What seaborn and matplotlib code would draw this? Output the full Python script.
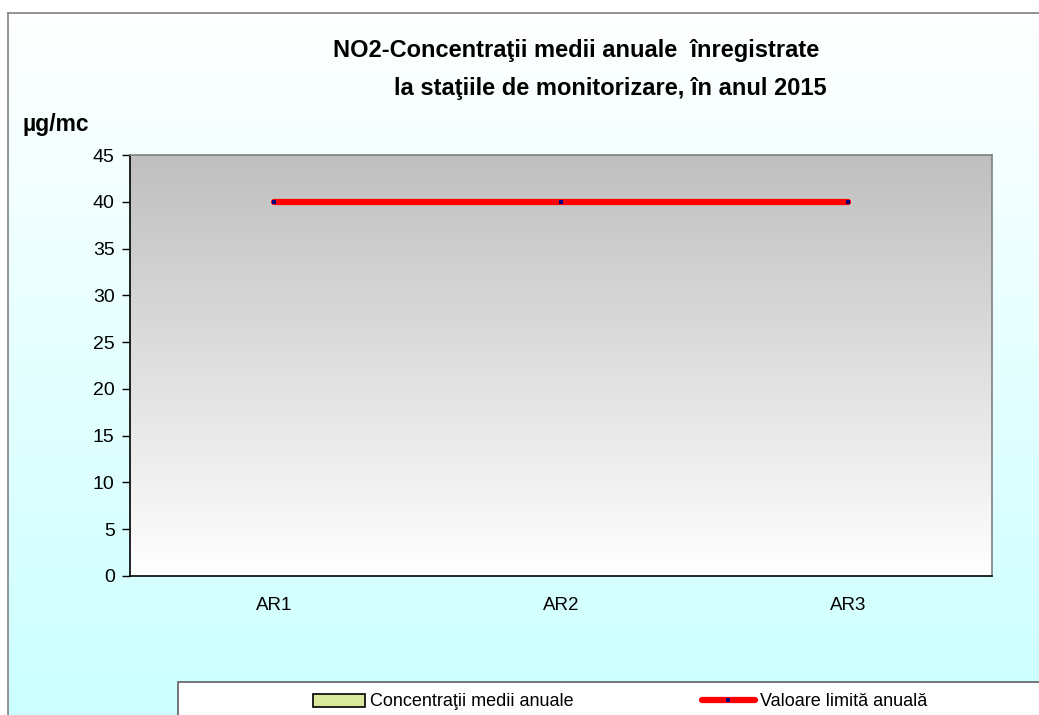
import numpy as np
import pandas as pd
import seaborn as sns
import matplotlib.pyplot as plt
from matplotlib.patches import Rectangle, Patch
from matplotlib.lines import Line2D

# data
stations = ["AR1", "AR2", "AR3"]
concentratii = [0, 0, 0]          # no annual averages drawn in the original
valoare_limita = [40, 40, 40]
y_ticks = [0, 5, 10, 15, 20, 25, 30, 35, 40, 45]

df = pd.DataFrame({"statie": stations, "conc": concentratii, "limita": valoare_limita})

sns.set_style("white")
plt.rcParams["font.family"] = ["Liberation Sans", "DejaVu Sans"]
plt.rcParams["text.color"] = "black"
plt.rcParams["xtick.color"] = "black"
plt.rcParams["ytick.color"] = "black"

W, H = 1039, 715
fig = plt.figure(figsize=(W / 100, H / 100), dpi=100)
fig.patch.set_facecolor("white")

# figure background: white -> light cyan gradient, with grey border on left/top
bg = fig.add_axes([8 / W, 0, 1 - 8 / W, 1 - 13 / H], zorder=-10)
grad = np.linspace(0, 1, 256).reshape(-1, 1)
top = np.array([1.0, 1.0, 1.0])
bot = np.array([0.8, 1.0, 1.0])
img = top + grad[..., None] * (bot - top)
bg.imshow(img, aspect="auto", extent=[0, 1, 0, 1], origin="upper")
bg.set_xlim(0, 1)
bg.set_ylim(0, 1)
bg.set_xticks([])
bg.set_yticks([])
for s in ["right", "bottom"]:
    bg.spines[s].set_visible(False)
for s in ["left", "top"]:
    bg.spines[s].set_color("#808080")
    bg.spines[s].set_linewidth(1.2)

ax = fig.add_axes([130 / W, 1 - 576 / H, 862 / W, 421 / H])

# plot area gradient: grey at top -> white at bottom
top2 = np.array([0.75, 0.75, 0.75])
bot2 = np.array([1.0, 1.0, 1.0])
img2 = top2 + grad[..., None] * (bot2 - top2)
ax.imshow(img2, aspect="auto", extent=[0, 1, 0, 1], origin="upper",
          transform=ax.transAxes, zorder=0)

sns.barplot(data=df, x="statie", y="conc", color="#d9e89c", edgecolor="black",
            linewidth=0, width=0.5, ax=ax, zorder=2)
sns.pointplot(data=df, x="statie", y="limita", color="red", markers="s",
              linestyles="-", ax=ax, zorder=3)
for ln in ax.lines:
    ln.set_linewidth(4.5)
    ln.set_markersize(2.8)
    ln.set_markeredgewidth(0)
    ln.set_markerfacecolor("#000080")

ax.set_xlim(-0.5, 2.5)
ax.set_ylim(0, 45)
ax.set_yticks(y_ticks)
ax.set_xlabel("")
ax.set_ylabel("")
ax.set_xticks(range(len(stations)))
ax.set_xticklabels(stations)
ax.set_xticks([-0.5, 0.5, 1.5, 2.5], minor=True)
ax.tick_params(axis="x", which="major", length=0, labelsize=13.5, pad=15)
ax.tick_params(axis="x", which="minor", direction="inout", length=9, width=1, color="black")
ax.tick_params(axis="y", direction="out", length=6, width=1, color="black",
               labelsize=14, pad=5, left=True)
for s in ["left", "bottom"]:
    ax.spines[s].set_color("black")
    ax.spines[s].set_linewidth(1.2)
for s in ["top", "right"]:
    ax.spines[s].set_color("#808080")
    ax.spines[s].set_linewidth(1.2)

fig.text(576 / W, 1 - 50 / H, "NO2-Concentraţii medii anuale  înregistrate",
         ha="center", va="center", fontsize=17, fontweight="bold")
fig.text(610 / W, 1 - 88 / H, "la staţiile de monitorizare, în anul 2015",
         ha="center", va="center", fontsize=17, fontweight="bold")
fig.text(22 / W, 1 - 124 / H, "µg/mc", ha="left", va="center",
         fontsize=16.5, fontweight="bold")

# legend box (runs off the bottom-right edge as in the original)
fig.patches.append(Rectangle((178 / W, -0.05), 1.0, (715 - 682) / H + 0.05,
                             transform=fig.transFigure, facecolor="white",
                             edgecolor="#606060", linewidth=1.2, zorder=5))
handles = [
    Patch(facecolor="#d9e89c", edgecolor="black", linewidth=1.2),
    Line2D([0], [0], color="red", linewidth=4.5, marker="s", markersize=2.8,
           markeredgewidth=0, markerfacecolor="#000080"),
]
leg = fig.legend(handles, ["Concentraţii medii anuale", "Valoare limită anuală"],
                 loc="center left", bbox_to_anchor=(313 / W, 1 - 702 / H),
                 ncol=2, frameon=False, fontsize=13, handlelength=2.9,
                 handletextpad=0.28, columnspacing=7.1, borderaxespad=0,
                 borderpad=0)
leg.set_zorder(6)

fig.savefig("out.png", dpi=100)
